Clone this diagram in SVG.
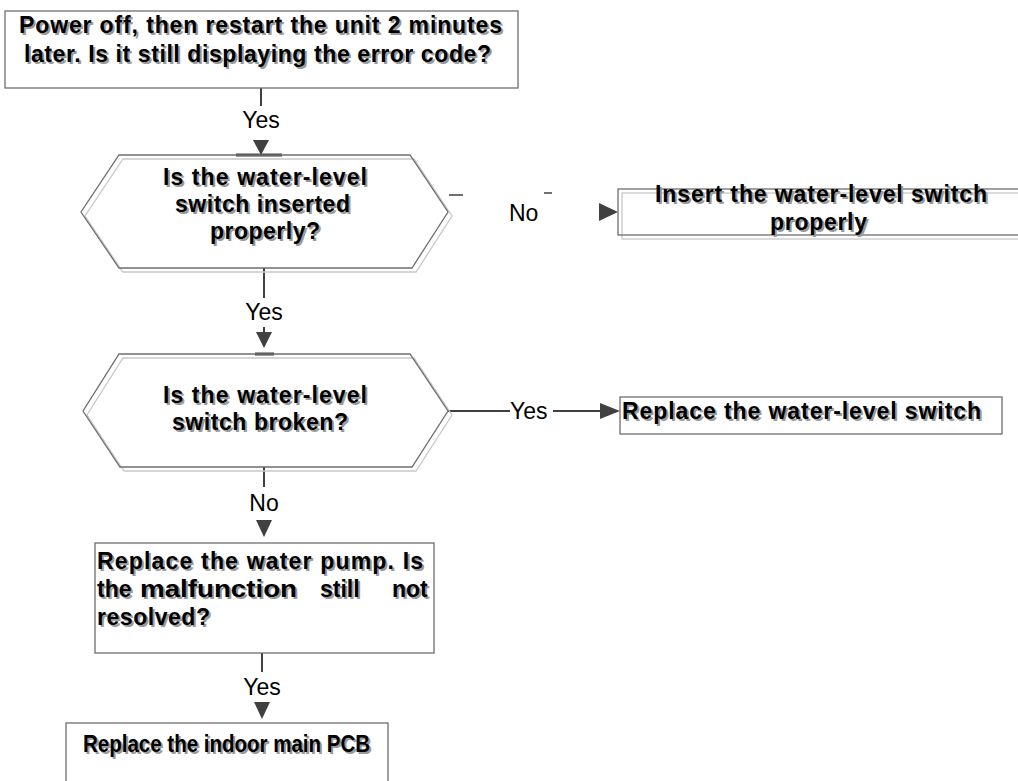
<svg xmlns="http://www.w3.org/2000/svg" width="1018" height="781" viewBox="0 0 1018 781">
<style>
.box{fill:#fff;stroke:#6e6e6e;stroke-width:1.3}
.shadow{fill:none;stroke:#c8c8c8;stroke-width:1.3}
.t{font-family:"Liberation Sans",Arial,sans-serif;font-weight:bold;font-size:23px;fill:#000}
.ts{font-family:"Liberation Sans",Arial,sans-serif;font-weight:bold;font-size:23px;fill:#9a9a9a}
.lbl{font-family:"Liberation Sans",Arial,sans-serif;font-size:23px;fill:#000}
.c{stroke:#404040;stroke-width:2;fill:none}
.stub{stroke:#404040;stroke-width:3}
.dash{stroke:#404040;stroke-width:1.5}
</style>

<g id="connectors">
<line class="c" x1="261" y1="88" x2="261" y2="106"/>
<text class="lbl" x="261" y="128" text-anchor="middle">Yes</text>
<path d="M253,140 L269,140 L261,155 z" fill="#404040"/>
<line class="stub" x1="236" y1="155" x2="282" y2="155"/>

<line class="dash" x1="449" y1="195" x2="463" y2="195"/>
<text class="lbl" x="509" y="221">No</text>
<line class="dash" x1="544" y1="193" x2="552" y2="193"/>
<path d="M599,203 L618,212 L599,221 z" fill="#404040"/>

<line class="c" x1="264" y1="268" x2="264" y2="298"/>
<text class="lbl" x="264" y="320" text-anchor="middle">Yes</text>
<line class="c" x1="264" y1="327" x2="264" y2="334"/>
<path d="M256,332 L272,332 L264,348 z" fill="#404040"/>
<line class="stub" x1="255" y1="354" x2="274" y2="354"/>

<line class="c" x1="448" y1="411" x2="510" y2="411"/>
<text class="lbl" x="510" y="419">Yes</text>
<line class="c" x1="553" y1="411" x2="600" y2="411"/>
<path d="M600,403 L620,411 L600,419 z" fill="#404040"/>

<line class="c" x1="264" y1="467" x2="264" y2="487"/>
<text class="lbl" x="264" y="511" text-anchor="middle">No</text>
<path d="M256,520 L272,520 L264,537 z" fill="#404040"/>

<line class="c" x1="262" y1="653" x2="262" y2="672"/>
<text class="lbl" x="262" y="695" text-anchor="middle">Yes</text>
<path d="M254,702 L270,702 L262,719 z" fill="#404040"/>
</g>

<g id="n1">
<rect class="box" x="5" y="11" width="513" height="77"/>
<text class="ts" x="21" y="35" textLength="483">Power off, then restart the unit 2 minutes</text>
<text class="t" x="19" y="33" textLength="483">Power off, then restart the unit 2 minutes</text>
<text class="ts" x="26" y="64" textLength="467">later. Is it still displaying the error code?</text>
<text class="t" x="24" y="62" textLength="467">later. Is it still displaying the error code?</text>
</g>

<g id="n2">
<polygon class="shadow" points="123,159 414,159 452,216 416,272 123,272 85,216"/>
<polygon class="box" style="fill:none" points="119,155 410,155 448,212 412,268 119,268 81,212"/>
<text class="ts" x="165" y="187" textLength="204">Is the water-level</text>
<text class="t" x="163" y="185" textLength="204">Is the water-level</text>
<text class="ts" x="177" y="214" textLength="175">switch inserted</text>
<text class="t" x="175" y="212" textLength="175">switch inserted</text>
<text class="ts" x="212" y="241" textLength="110">properly?</text>
<text class="t" x="210" y="239" textLength="110">properly?</text>
</g>

<g id="n3">
<rect class="shadow" x="622" y="193" width="400" height="46"/>
<rect class="box" style="fill:none" x="618" y="189" width="404" height="46"/>
<text class="ts" x="657" y="204" textLength="332">Insert the water-level switch</text>
<text class="t" x="655" y="202" textLength="332">Insert the water-level switch</text>
<text class="ts" x="772" y="232" textLength="97">properly</text>
<text class="t" x="770" y="230" textLength="97">properly</text>
</g>

<g id="n4">
<polygon class="shadow" points="123,358 414,358 452,415 416,471 124,471 87,415"/>
<polygon class="box" style="fill:none" points="119,354 410,354 448,411 412,467 120,467 83,411"/>
<text class="ts" x="165" y="405" textLength="204">Is the water-level</text>
<text class="t" x="163" y="403" textLength="204">Is the water-level</text>
<text class="ts" x="174" y="432" textLength="176">switch broken?</text>
<text class="t" x="172" y="430" textLength="176">switch broken?</text>
</g>

<g id="n5">
<rect class="box" x="620" y="397" width="382" height="37"/>
<text class="ts" x="624" y="421" textLength="359">Replace the water-level switch</text>
<text class="t" x="622" y="419" textLength="359">Replace the water-level switch</text>
</g>

<g id="n6">
<rect class="box" x="95" y="543" width="339" height="110"/>
<text class="ts" x="99" y="571" textLength="326">Replace the water pump. Is</text>
<text class="t" x="97" y="569" textLength="326">Replace the water pump. Is</text>
<text class="ts" y="599"><tspan x="99">the</tspan><tspan x="142" textLength="157" lengthAdjust="spacingAndGlyphs">malfunction</tspan><tspan x="322">still</tspan><tspan x="394">not</tspan></text>
<text class="t" y="597"><tspan x="97">the</tspan><tspan x="140" textLength="157" lengthAdjust="spacingAndGlyphs">malfunction</tspan><tspan x="320">still</tspan><tspan x="392">not</tspan></text>
<text class="ts" x="99" y="627" textLength="113">resolved?</text>
<text class="t" x="97" y="625" textLength="113">resolved?</text>
</g>

<g id="n7">
<rect class="box" x="66" y="723" width="322" height="70"/>
<text class="ts" x="85" y="754" textLength="287" lengthAdjust="spacingAndGlyphs">Replace the indoor main PCB</text>
<text class="t" x="83" y="752" textLength="287" lengthAdjust="spacingAndGlyphs">Replace the indoor main PCB</text>
</g>
</svg>
